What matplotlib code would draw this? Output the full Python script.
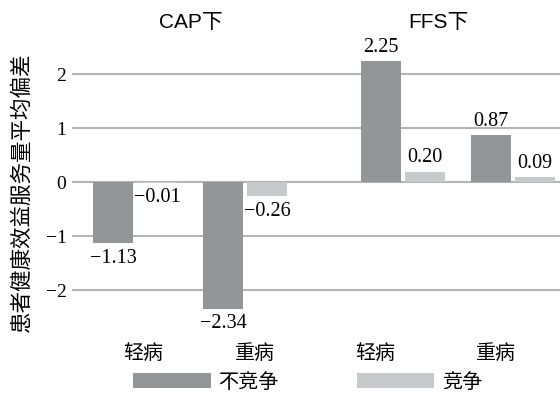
import matplotlib.pyplot as plt
import numpy as np

# deviations of mean patient health-benefit service volume
categories = ['轻病', '重病', '轻病', '重病']
schemes = ['CAP下', 'FFS下']
no_competition = [-1.13, -2.34, 2.25, 0.87]
competition = [-0.01, -0.26, 0.20, 0.09]
series_names = ['不竞争', '竞争']
yticks = [-2, -1, 0, 1, 2]

dark = '#939598'
light = '#c8c9ca'
grid_color = '#b4b4b4'
serif = ['Liberation Serif', 'DejaVu Serif']
cjk = ['Noto Sans CJK SC', 'DejaVu Sans']
sans = ['Liberation Sans', 'Noto Sans CJK SC']

fig = plt.figure(figsize=(5.6, 3.94), dpi=100)
ax = fig.add_axes([72 / 560, 0.1535, 488 / 560, 0.74])

# two scheme blocks, two disease levels each, extra gap between blocks
group_x = np.arange(4) + np.repeat([0, 0.43], 2)
width = 40 / 110
off = 22 / 110

b1 = ax.bar(group_x - off, no_competition, width, color=dark, label=series_names[0])
b2 = ax.bar(group_x + off, competition, width, color=light, label=series_names[1])

for bars, vals in ((b1, no_competition), (b2, competition)):
    for rect, v in zip(bars, vals):
        x = rect.get_x() + rect.get_width() / 2
        ax.annotate(f'{v:.2f}'.replace('-', '\u2212'), (x, v),
                    xytext=(0, 3 if v >= 0 else -4), textcoords='offset points',
                    ha='center', va='bottom' if v >= 0 else 'top',
                    fontsize=14.5, family=serif)

ax.set_ylim(-2.8, 2.6)
ax.set_xlim(-0.577, 3.859)
ax.set_yticks(yticks)
ax.set_yticklabels([str(t).replace('-', '\u2212') for t in yticks], family=serif, fontsize=14)
ax.grid(axis='y', color=grid_color, linewidth=1.5)
ax.set_axisbelow(True)
ax.tick_params(axis='y', length=0, pad=4)
ax.tick_params(axis='x', length=0, pad=7)
ax.set_xticks(group_x + np.array([0.07, 0.09, -0.25, -0.15]))
ax.set_xticklabels(categories, family=cjk, fontsize=14.4)
for s in ax.spines.values():
    s.set_visible(False)

# scheme headings above each block
for xc, name in zip([0.5, 2.75], schemes):
    ax.text(xc, 2.96, name, ha='center', va='center', fontsize=15, family=sans,
            clip_on=False)

fig.text(22 / 560, 0.513, '患者健康效益服务量平均偏差', rotation=90,
         ha='center', va='center', fontsize=15.5, family=cjk)

fig.legend(handles=[b1, b2], loc='center left', bbox_to_anchor=(133 / 560, 12 / 394),
           ncol=2, frameon=False, prop={'family': cjk, 'size': 14.5},
           handlelength=3.85, handleheight=0.82, handletextpad=0.4,
           columnspacing=3.85, borderpad=0, borderaxespad=0)

fig.savefig('out.png', dpi=100)
